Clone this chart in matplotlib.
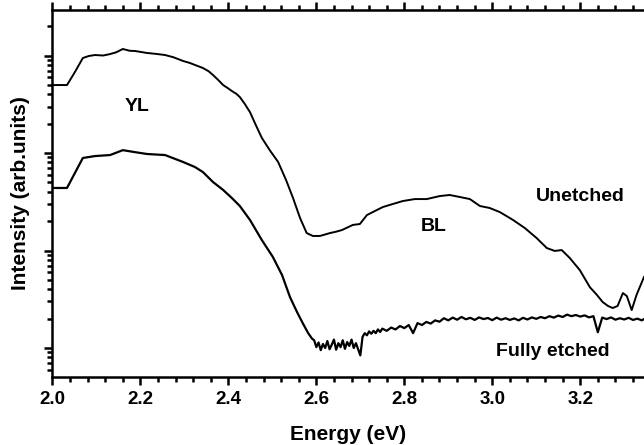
import numpy as np
import matplotlib
matplotlib.use("Agg")
import matplotlib.pyplot as plt
from matplotlib.ticker import LogLocator, MultipleLocator, NullFormatter

plt.rcParams["font.family"] = ["Liberation Sans", "DejaVu Sans"]
plt.rcParams["font.weight"] = "bold"

# Unetched sample (upper curve)
unetched_e = [2.000, 2.033, 2.051, 2.069, 2.083, 2.097, 2.115, 2.131, 2.145, 2.160,
              2.175, 2.188, 2.200, 2.215, 2.235, 2.256, 2.275, 2.297, 2.312, 2.324,
              2.342, 2.355, 2.365, 2.377, 2.388, 2.398, 2.408, 2.418, 2.426, 2.437,
              2.449, 2.462, 2.476, 2.494, 2.513, 2.531, 2.547, 2.563,
              2.578, 2.592, 2.608, 2.620, 2.631, 2.645, 2.658, 2.683, 2.699, 2.715,
              2.733, 2.751, 2.774, 2.797, 2.824, 2.851, 2.881, 2.903, 2.926, 2.949,
              2.972, 2.994, 3.017, 3.047, 3.074, 3.101, 3.124, 3.142, 3.158, 3.176,
              3.199, 3.222, 3.238, 3.251, 3.263, 3.274, 3.285, 3.297, 3.306, 3.317,
              3.328, 3.345]
unetched_i = [498, 498, 677, 943, 990, 1012, 1000, 1035, 1080, 1167,
              1120, 1112, 1090, 1062, 1040, 1012, 960, 879, 840, 800,
              745, 690, 631, 560, 498, 465, 432, 405, 375, 320,
              263, 195, 143, 107, 81, 53, 34.5, 21.5,
              15.1, 14.1, 14.1, 14.6, 15.1, 15.6, 16.2, 18.3, 18.7, 23.1,
              25.4, 27.9, 30.0, 32.2, 33.7, 33.7, 36.2, 37.1, 35.4, 33.7,
              28.6, 27.3, 24.8, 20.6, 17.0, 13.4, 10.6, 9.9, 10.1, 8.4,
              6.3, 4.2, 3.5, 2.96, 2.7, 2.57, 2.70, 3.66, 3.41, 2.45,
              3.50, 5.35]

# Fully etched sample (lower curve)
etched_e = [2.000, 2.033, 2.051, 2.069, 2.097, 2.131, 2.160, 2.188, 2.215, 2.256,
            2.297, 2.324, 2.342, 2.365, 2.388, 2.408, 2.426, 2.449, 2.476, 2.501,
            2.522, 2.540, 2.556, 2.569, 2.581, 2.590,
            2.595, 2.600, 2.605, 2.610, 2.615, 2.620, 2.625, 2.630, 2.635, 2.640,
            2.645, 2.650, 2.655, 2.660, 2.665, 2.670, 2.675, 2.680, 2.685, 2.690,
            2.695, 2.700, 2.705, 2.710, 2.715, 2.720, 2.725, 2.730, 2.735, 2.740,
            2.745, 2.750, 2.760, 2.770, 2.780, 2.790, 2.800, 2.810, 2.820, 2.830,
            2.840, 2.850, 2.860, 2.870, 2.880, 2.890, 2.900, 2.910, 2.920, 2.930,
            2.940, 2.950, 2.960, 2.970, 2.980, 2.990, 3.000, 3.010, 3.020, 3.030,
            3.040, 3.050, 3.060, 3.070, 3.080, 3.090, 3.100, 3.110, 3.120, 3.130,
            3.140, 3.150, 3.160, 3.170, 3.180, 3.190, 3.200, 3.210, 3.220, 3.230,
            3.240, 3.250, 3.260, 3.270, 3.280, 3.290, 3.300, 3.310, 3.320, 3.330,
            3.340, 3.345]
etched_i = [43.8, 43.8, 62.4, 88.9, 93.1, 95.3, 107, 102, 97.7, 95.3,
            80.9, 71.8, 63.8, 50.4, 41.8, 34.5, 28.6, 20.6, 12.8, 8.6,
            5.6, 3.33, 2.34, 1.80, 1.43, 1.25,
            1.20, 1.02, 1.14, 0.95, 1.10, 1.00, 1.18, 0.97, 1.08, 1.22,
            0.96, 1.12, 1.02, 1.20, 0.98, 1.15, 1.05, 1.22, 1.00, 1.12,
            0.97, 0.84, 1.30, 1.42, 1.35, 1.48, 1.40, 1.50, 1.42, 1.55,
            1.46, 1.58, 1.50, 1.62, 1.55, 1.68, 1.60, 1.72, 1.42, 1.80,
            1.72, 1.85, 1.78, 1.92, 1.86, 2.02, 1.92, 2.05, 1.95, 2.08,
            1.97, 2.04, 1.94, 2.06, 1.98, 2.03, 1.93, 2.05, 1.95, 2.02,
            1.94, 2.01, 1.92, 2.04, 1.96, 2.06, 1.99, 2.08, 2.02, 2.12,
            2.05, 2.15, 2.08, 2.20, 2.12, 2.18, 2.10, 2.16, 2.06, 2.12,
            1.45, 2.05, 1.98, 2.06, 1.95, 2.02, 1.96, 2.04, 1.94, 2.00,
            1.92, 1.98]

labels = ["YL", "BL", "Unetched", "Fully etched"]
label_pos = [(2.192, 303), (2.867, 17.8), (3.201, 35.4), (3.137, 0.91)]

fig = plt.figure(figsize=(6.44, 4.45), dpi=100)
ax = fig.add_axes([0.0815, 0.1528, 0.9185, 0.8247])

ax.plot(unetched_e, unetched_i, color="black", lw=1.4)
ax.plot(etched_e, etched_i, color="black", lw=1.6)

ax.set_yscale("log")
ax.set_xlim(2.0, 3.345)
ax.set_ylim(0.504, 2930)

ax.xaxis.set_major_locator(MultipleLocator(0.2))
ax.xaxis.set_minor_locator(MultipleLocator(0.04))
ax.yaxis.set_major_locator(LogLocator(base=10))
ax.yaxis.set_minor_locator(LogLocator(base=10, subs=np.arange(2, 10)))
ax.yaxis.set_major_formatter(NullFormatter())
ax.yaxis.set_minor_formatter(NullFormatter())
ax.xaxis.set_major_formatter(plt.FuncFormatter(lambda v, p: f"{v:.1f}"))

# ticks on left, bottom and top edges
ax.tick_params(axis="x", which="both", top=True)
ax.tick_params(axis="both", which="major", direction="out", length=6, width=1.8,
               labelsize=13.5, pad=4)
ax.tick_params(axis="both", which="minor", direction="out", length=3.5, width=1.8)

for side in ["left", "bottom", "top"]:
    ax.spines[side].set_linewidth(1.8)
ax.spines["right"].set_visible(False)

for txt, (x, y) in zip(labels, label_pos):
    ax.text(x, y, txt, fontsize=14, fontweight="bold", ha="center", va="center")

ax.set_xlabel("Energy (eV)", fontsize=15, fontweight="bold", labelpad=12)
ax.set_ylabel("Intensity (arb.units)", fontsize=15, fontweight="bold", labelpad=6)

fig.savefig("out.png", dpi=100)
